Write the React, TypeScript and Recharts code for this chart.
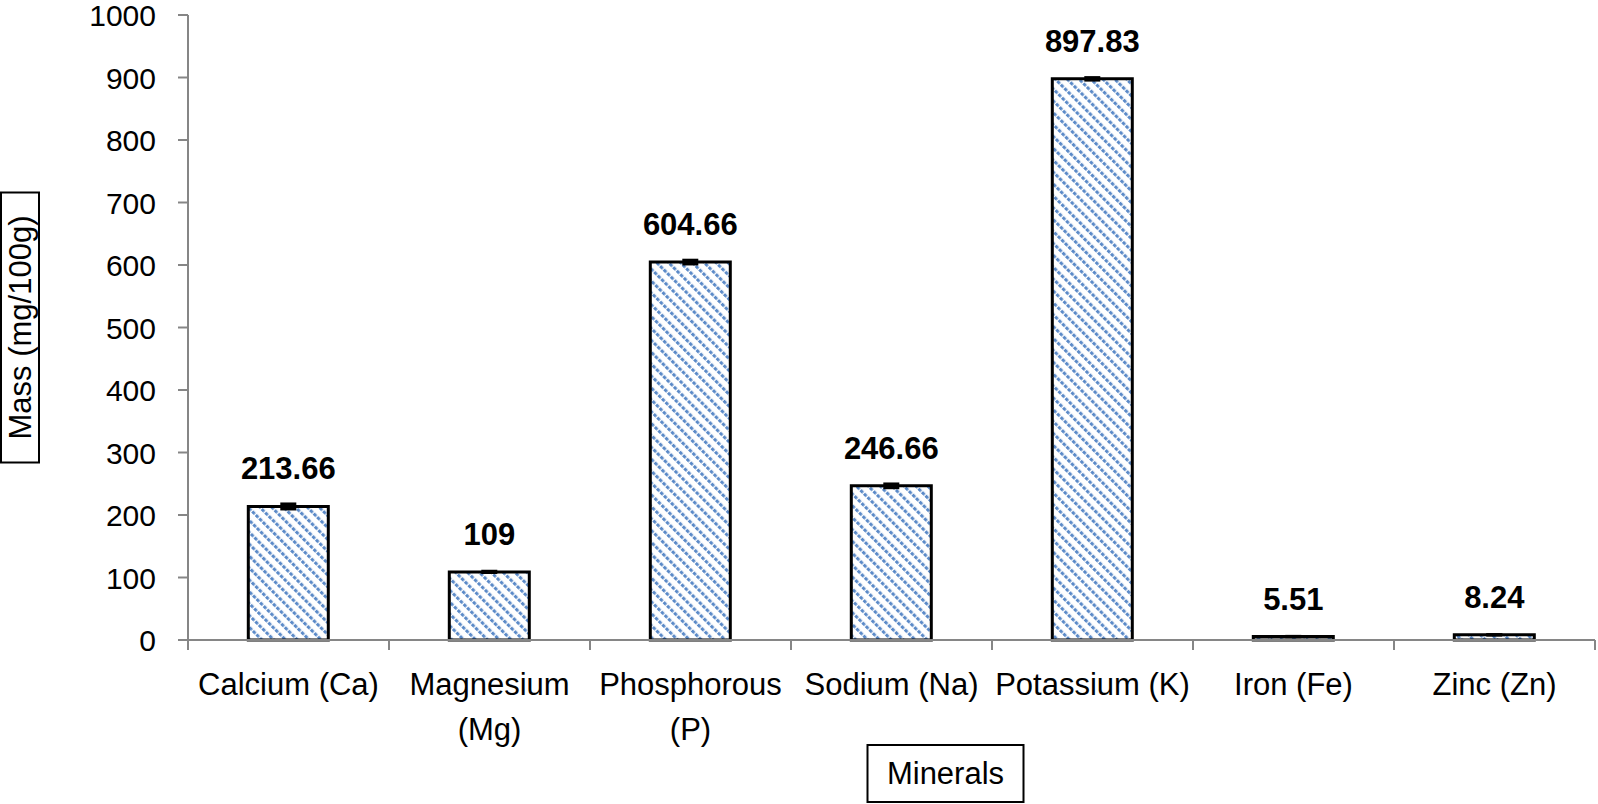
import React from "react";
import { BarChart, Bar, XAxis, YAxis, ErrorBar, LabelList, Label } from "recharts";

const minerals = [
  "Calcium (Ca)",
  "Magnesium (Mg)",
  "Phosphorous (P)",
  "Sodium (Na)",
  "Potassium (K)",
  "Iron (Fe)",
  "Zinc (Zn)",
];
// how the category names wrap under the axis
const tickLines = [
  ["Calcium (Ca)"],
  ["Magnesium", "(Mg)"],
  ["Phosphorous", "(P)"],
  ["Sodium (Na)"],
  ["Potassium (K)"],
  ["Iron (Fe)"],
  ["Zinc (Zn)"],
];
const massValues = [213.66, 109, 604.66, 246.66, 897.83, 5.51, 8.24];
const massErrors = [4, 1, 3, 3, 2, 0.3, 0.3];
const yTicks = [0, 100, 200, 300, 400, 500, 600, 700, 800, 900, 1000];

const chartData = minerals.map((name, i) => ({
  name,
  mass: massValues[i],
  err: massErrors[i],
}));

const W = 1598;
const H = 804;
const Y_AXIS_W = 188;
const RIGHT = 3;
const FONT = "'Liberation Sans', Arial, sans-serif";
const AXIS = "#868686";
const BAND = (W - Y_AXIS_W - RIGHT) / minerals.length;

const MineralTick = (props: any) => {
  const { x, y, index, payload } = props;
  const lines = tickLines[index] ?? [String(payload.value)];
  const last = index === minerals.length - 1;
  return (
    <g>
      <line x1={x - BAND / 2} x2={x - BAND / 2} y1={y} y2={y + 10} stroke={AXIS} strokeWidth={2} />
      {last && (
        <line x1={x + BAND / 2} x2={x + BAND / 2} y1={y} y2={y + 10} stroke={AXIS} strokeWidth={2} />
      )}
      <text x={x} y={y + 55} textAnchor="middle" fontFamily={FONT} fontSize={31} fill="#000">
        {lines.map((l: string, i: number) => (
          <tspan key={i} x={x} dy={i === 0 ? 0 : 45}>
            {l}
          </tspan>
        ))}
      </text>
    </g>
  );
};

const ValueTick = (props: any) => {
  const { x, y, payload } = props;
  return (
    <text x={x} y={y + 11} textAnchor="end" fontFamily={FONT} fontSize={30} fill="#000">
      {payload.value}
    </text>
  );
};

const YTitle = (props: any) => {
  const vb = props.viewBox || { x: 0, y: 15, width: 188, height: 625 };
  const cy = vb.y + vb.height / 2;
  const cx = vb.x + 20;
  return (
    <g>
      <rect x={vb.x + 1} y={cy - 135} width={38} height={270} fill="#fff" stroke="#000" strokeWidth={2} />
      <text
        x={cx}
        y={cy}
        transform={`rotate(-90 ${cx} ${cy})`}
        textAnchor="middle"
        dominantBaseline="central"
        fontFamily={FONT}
        fontSize={31}
        fill="#000"
      >
        Mass (mg/100g)
      </text>
    </g>
  );
};

const XTitle = (props: any) => {
  const vb = props.viewBox || { x: 188, y: 640, width: 1407, height: 164 };
  const cx = vb.x + vb.width / 2 + 54;
  const top = vb.y + 105;
  return (
    <g>
      <rect x={cx - 78} y={top} width={156} height={57} fill="#fff" stroke="#000" strokeWidth={2} />
      <text
        x={cx}
        y={top + 28.5}
        textAnchor="middle"
        dominantBaseline="central"
        fontFamily={FONT}
        fontSize={31}
        fill="#000"
      >
        Minerals
      </text>
    </g>
  );
};

export default function App() {
  return (
    <div style={{ position: "absolute", left: 0, top: 0, width: W, height: H, background: "#fff" }}>
      <BarChart
        width={W}
        height={H}
        data={chartData}
        margin={{ top: 15, right: RIGHT, bottom: 0, left: 0 }}
        barCategoryGap="30%"
      >
        <defs>
          <pattern
            id="hatch"
            width="8.4"
            height="5"
            patternUnits="userSpaceOnUse"
            patternTransform="rotate(-45)"
          >
            <rect width="8.4" height="5" fill="#fff" />
            <rect x="0" y="0" width="3" height="3.6" fill="#5B8AC8" />
          </pattern>
        </defs>
        <XAxis
          dataKey="name"
          height={164}
          interval={0}
          tickLine={false}
          tickSize={0}
          tickMargin={0}
          axisLine={{ stroke: AXIS, strokeWidth: 2 }}
          tick={<MineralTick />}
        >
          <Label content={<XTitle />} />
        </XAxis>
        <YAxis
          width={Y_AXIS_W}
          domain={[0, 1000]}
          ticks={yTicks}
          interval={0}
          tickSize={10}
          tickMargin={22}
          axisLine={{ stroke: AXIS, strokeWidth: 2 }}
          tickLine={{ stroke: AXIS, strokeWidth: 2 }}
          tick={<ValueTick />}
        >
          <Label content={<YTitle />} />
        </YAxis>
        <Bar
          dataKey="mass"
          fill="url(#hatch)"
          stroke="#000"
          strokeWidth={3}
          isAnimationActive={false}
        >
          <ErrorBar dataKey="err" width={8} strokeWidth={3} stroke="#000" isAnimationActive={false} />
          <LabelList
            dataKey="mass"
            position="top"
            offset={27}
            fill="#000"
            fontSize={31}
            fontWeight="bold"
            fontFamily={FONT}
          />
        </Bar>
      </BarChart>
    </div>
  );
}
